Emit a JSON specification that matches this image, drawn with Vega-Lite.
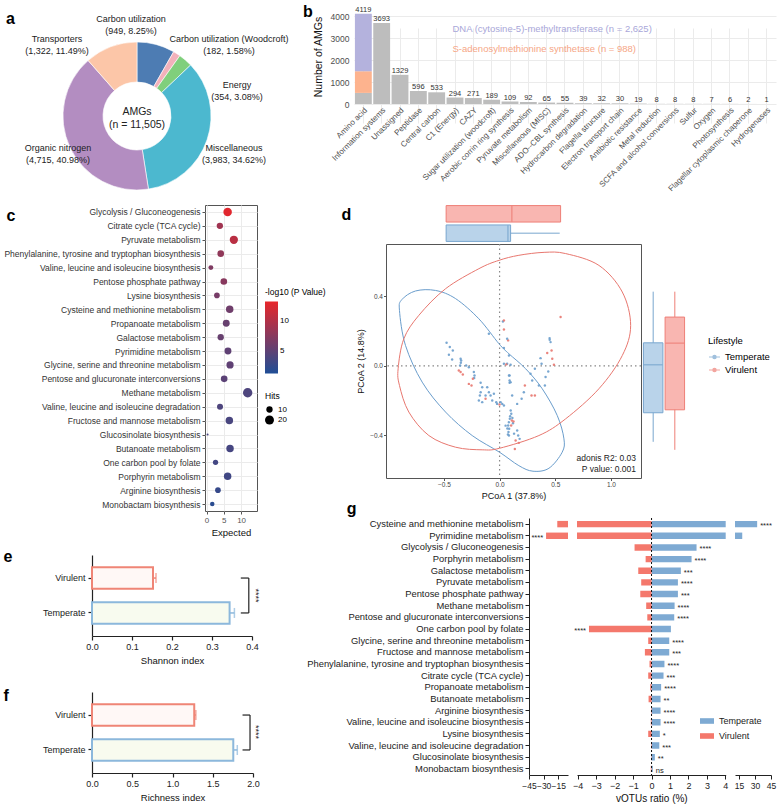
{
"$schema": "https://vega.github.io/schema/vega-lite/v6.json",
"padding": {"left": 2, "top": 3, "right": 2, "bottom": 2},
"config": {
  "font": "Liberation Sans",
  "view": {"stroke": null},
  "axis": {"labelFontSize": 8, "titleFontSize": 9.5, "titleFontWeight": "normal", "labelColor": "#333333", "titleColor": "#111111", "grid": false, "labelFlush": false, "labelOverlap": false, "tickCount": 20},
  "legend": {"labelFontSize": 8, "titleFontSize": 8.5, "titleFontWeight": "normal"},
  "title": {"anchor": "start", "frame": "bounds", "offset": 0, "fontSize": 16, "fontWeight": "bold", "color": "#000000"}
},
"datasets": {
  "amg": [
    {"cat": "Carbon utilization", "n": 949, "label": "Carbon utilization\n(949, 8.25%)"},
    {"cat": "Carbon utilization (Woodcroft)", "n": 182, "label": "Carbon utilization (Woodcroft)\n(182, 1.58%)"},
    {"cat": "Energy", "n": 354, "label": "Energy\n(354, 3.08%)"},
    {"cat": "Miscellaneous", "n": 3983, "label": "Miscellaneous\n(3,983, 34.62%)"},
    {"cat": "Organic nitrogen", "n": 4715, "label": "Organic nitrogen\n(4,715, 40.98%)"},
    {"cat": "Transporters", "n": 1322, "label": "Transporters\n(1,322, 11.49%)"}
  ],
  "bcat": [
    {"cat": "Amino acid", "part": "Other", "n": 506},
    {"cat": "Amino acid", "part": "S-adenosylmethionine synthetase (n = 988)", "n": 988},
    {"cat": "Amino acid", "part": "DNA (cytosine-5)-methyltransferase (n = 2,625)", "n": 2625},
    {"cat": "Information systems", "part": "Other", "n": 3693},
    {"cat": "Unassigned", "part": "Other", "n": 1329},
    {"cat": "Peptidase", "part": "Other", "n": 596},
    {"cat": "Central carbon", "part": "Other", "n": 533},
    {"cat": "C1 (Energy)", "part": "Other", "n": 294},
    {"cat": "CAZY", "part": "Other", "n": 271},
    {"cat": "Sugar utilization (woodcroft)", "part": "Other", "n": 189},
    {"cat": "Aerobic corrin ring synthesis", "part": "Other", "n": 109},
    {"cat": "Pyruvate metabolism", "part": "Other", "n": 92},
    {"cat": "Miscellaneous (MISC)", "part": "Other", "n": 65},
    {"cat": "ADO--CBL synthesis", "part": "Other", "n": 55},
    {"cat": "Hydrocarbon degradation", "part": "Other", "n": 39},
    {"cat": "Flagella structure", "part": "Other", "n": 32},
    {"cat": "Electron transport chain", "part": "Other", "n": 30},
    {"cat": "Antibiotic resistance", "part": "Other", "n": 19},
    {"cat": "Metal reduction", "part": "Other", "n": 8},
    {"cat": "SCFA and alcohol conversions", "part": "Other", "n": 8},
    {"cat": "Sulfur", "part": "Other", "n": 8},
    {"cat": "Oxygen", "part": "Other", "n": 7},
    {"cat": "Photosynthesis", "part": "Other", "n": 6},
    {"cat": "Flagellar cytoplasmic chaperone", "part": "Other", "n": 2},
    {"cat": "Hydrogenases", "part": "Other", "n": 1}
  ],
  "kegg": [
    {"path": "Glycolysis / Gluconeogenesis", "exp": 6.1, "hits": 18, "p": 13},
    {"path": "Citrate cycle (TCA cycle)", "exp": 3.85, "hits": 10, "p": 9},
    {"path": "Pyruvate metabolism", "exp": 7.9, "hits": 17, "p": 10.5},
    {"path": "Phenylalanine, tyrosine and tryptophan biosynthesis", "exp": 4.1, "hits": 11, "p": 8},
    {"path": "Valine, leucine and isoleucine biosynthesis", "exp": 1.25, "hits": 6, "p": 7},
    {"path": "Pentose phosphate pathway", "exp": 5.0, "hits": 11, "p": 7.5},
    {"path": "Lysine biosynthesis", "exp": 3.0, "hits": 8, "p": 6.5},
    {"path": "Cysteine and methionine metabolism", "exp": 6.7, "hits": 14, "p": 6},
    {"path": "Propanoate metabolism", "exp": 5.7, "hits": 12, "p": 5.5},
    {"path": "Galactose metabolism", "exp": 4.1, "hits": 10, "p": 5.5},
    {"path": "Pyrimidine metabolism", "exp": 6.2, "hits": 12, "p": 5},
    {"path": "Glycine, serine and threonine metabolism", "exp": 6.8, "hits": 13, "p": 5},
    {"path": "Pentose and glucuronate interconversions", "exp": 5.1, "hits": 11, "p": 4.8},
    {"path": "Methane metabolism", "exp": 11.9, "hits": 22, "p": 4},
    {"path": "Valine, leucine and isoleucine degradation", "exp": 3.9, "hits": 9, "p": 4},
    {"path": "Fructose and mannose metabolism", "exp": 6.6, "hits": 14, "p": 3.7},
    {"path": "Glucosinolate biosynthesis", "exp": 0.3, "hits": 1, "p": 3.5},
    {"path": "Butanoate metabolism", "exp": 6.8, "hits": 14, "p": 3.5},
    {"path": "One carbon pool by folate", "exp": 2.6, "hits": 7, "p": 3.3},
    {"path": "Porphyrin metabolism", "exp": 6.1, "hits": 14, "p": 3.1},
    {"path": "Arginine biosynthesis", "exp": 3.3, "hits": 8, "p": 2.5},
    {"path": "Monobactam biosynthesis", "exp": 1.65, "hits": 5, "p": 1.8}
  ],
  "shannon": [
    {"life": "Virulent", "mean": 0.1525, "upper": 0.16},
    {"life": "Temperate", "mean": 0.344, "upper": 0.356}
  ],
  "rich": [
    {"life": "Virulent", "mean": 1.27, "upper": 1.29},
    {"life": "Temperate", "mean": 1.755, "upper": 1.805}
  ],
  "box1": [
    {"life": "Virulent", "lo": -0.48, "q1": -0.48, "med": 0.11, "q3": 0.548, "hi": 0.548},
    {"life": "Temperate", "lo": -0.48, "q1": -0.48, "med": 0.075, "q3": 0.099, "hi": 0.54}
  ],
  "box2": [
    {"life": "Temperate", "lo": -0.437, "q1": -0.27, "med": 0.006, "q3": 0.132, "hi": 0.426},
    {"life": "Virulent", "lo": -0.483, "q1": -0.253, "med": 0.13, "q3": 0.28, "hi": 0.426}
  ],
  "ell": [
    {"life": "Temperate", "ex": -0.899, "ey": 0.318},
    {"life": "Temperate", "ex": -0.878, "ey": 0.38},
    {"life": "Temperate", "ex": -0.755, "ey": 0.43},
    {"life": "Temperate", "ex": -0.575, "ey": 0.433},
    {"life": "Temperate", "ex": -0.395, "ey": 0.386},
    {"life": "Temperate", "ex": -0.186, "ey": 0.27},
    {"life": "Temperate", "ex": -0.006, "ey": 0.127},
    {"life": "Temperate", "ex": 0.084, "ey": 0.069},
    {"life": "Temperate", "ex": 0.234, "ey": -0.017},
    {"life": "Temperate", "ex": 0.383, "ey": -0.132},
    {"life": "Temperate", "ex": 0.518, "ey": -0.286},
    {"life": "Temperate", "ex": 0.578, "ey": -0.42},
    {"life": "Temperate", "ex": 0.562, "ey": -0.497},
    {"life": "Temperate", "ex": 0.443, "ey": -0.589},
    {"life": "Temperate", "ex": 0.3, "ey": -0.606},
    {"life": "Temperate", "ex": 0.173, "ey": -0.574},
    {"life": "Temperate", "ex": 0.0, "ey": -0.497},
    {"life": "Temperate", "ex": -0.246, "ey": -0.401},
    {"life": "Temperate", "ex": -0.485, "ey": -0.266},
    {"life": "Temperate", "ex": -0.695, "ey": -0.094},
    {"life": "Temperate", "ex": -0.845, "ey": 0.117},
    {"life": "Virulent", "ex": 0.173, "ey": 0.635},
    {"life": "Virulent", "ex": 0.4, "ey": 0.652},
    {"life": "Virulent", "ex": 0.593, "ey": 0.645},
    {"life": "Virulent", "ex": 0.892, "ey": 0.577},
    {"life": "Virulent", "ex": 1.102, "ey": 0.424},
    {"life": "Virulent", "ex": 1.177, "ey": 0.232},
    {"life": "Virulent", "ex": 1.102, "ey": 0.059},
    {"life": "Virulent", "ex": 0.892, "ey": -0.132},
    {"life": "Virulent", "ex": 0.593, "ey": -0.305},
    {"life": "Virulent", "ex": 0.353, "ey": -0.401},
    {"life": "Virulent", "ex": 0.0, "ey": -0.474},
    {"life": "Virulent", "ex": -0.156, "ey": -0.483},
    {"life": "Virulent", "ex": -0.395, "ey": -0.468},
    {"life": "Virulent", "ex": -0.635, "ey": -0.401},
    {"life": "Virulent", "ex": -0.815, "ey": -0.266},
    {"life": "Virulent", "ex": -0.899, "ey": -0.113},
    {"life": "Virulent", "ex": -0.911, "ey": -0.017},
    {"life": "Virulent", "ex": -0.86, "ey": 0.155},
    {"life": "Virulent", "ex": -0.725, "ey": 0.29},
    {"life": "Virulent", "ex": -0.485, "ey": 0.443},
    {"life": "Virulent", "ex": -0.186, "ey": 0.558},
    {"life": "Virulent", "ex": -0.006, "ey": 0.606}
  ],
  "pc": [
    {"life": "Temperate", "pc1": -0.476, "pc2": 0.132},
    {"life": "Temperate", "pc1": -0.447, "pc2": 0.108},
    {"life": "Temperate", "pc1": -0.42, "pc2": 0.088},
    {"life": "Temperate", "pc1": -0.455, "pc2": 0.063},
    {"life": "Temperate", "pc1": -0.426, "pc2": 0.036},
    {"life": "Temperate", "pc1": -0.35, "pc2": 0.04},
    {"life": "Temperate", "pc1": -0.345, "pc2": 0.03},
    {"life": "Temperate", "pc1": -0.348, "pc2": 0.017},
    {"life": "Temperate", "pc1": -0.354, "pc2": 0.002},
    {"life": "Virulent", "pc1": -0.366, "pc2": -0.027},
    {"life": "Virulent", "pc1": -0.35, "pc2": -0.036},
    {"life": "Virulent", "pc1": -0.33, "pc2": -0.05},
    {"life": "Temperate", "pc1": -0.276, "pc2": -0.008},
    {"life": "Temperate", "pc1": -0.3, "pc2": 0.002},
    {"life": "Temperate", "pc1": -0.231, "pc2": -0.036},
    {"life": "Temperate", "pc1": -0.225, "pc2": -0.056},
    {"life": "Temperate", "pc1": -0.228, "pc2": -0.07},
    {"life": "Virulent", "pc1": -0.24, "pc2": -0.075},
    {"life": "Virulent", "pc1": -0.276, "pc2": -0.104},
    {"life": "Virulent", "pc1": -0.252, "pc2": -0.113},
    {"life": "Temperate", "pc1": -0.17, "pc2": -0.098},
    {"life": "Temperate", "pc1": -0.156, "pc2": -0.123},
    {"life": "Temperate", "pc1": -0.17, "pc2": -0.152},
    {"life": "Temperate", "pc1": -0.177, "pc2": -0.171},
    {"life": "Temperate", "pc1": -0.186, "pc2": -0.2},
    {"life": "Temperate", "pc1": -0.156, "pc2": -0.209},
    {"life": "Temperate", "pc1": -0.126, "pc2": -0.171},
    {"life": "Temperate", "pc1": -0.111, "pc2": -0.123},
    {"life": "Temperate", "pc1": -0.096, "pc2": -0.152},
    {"life": "Temperate", "pc1": -0.081, "pc2": -0.171},
    {"life": "Temperate", "pc1": -0.051, "pc2": -0.161},
    {"life": "Temperate", "pc1": -0.066, "pc2": -0.2},
    {"life": "Virulent", "pc1": -0.126, "pc2": -0.19},
    {"life": "Temperate", "pc1": -0.03, "pc2": -0.209},
    {"life": "Temperate", "pc1": -0.022, "pc2": -0.219},
    {"life": "Virulent", "pc1": 0.0, "pc2": -0.223},
    {"life": "Temperate", "pc1": 0.024, "pc2": -0.219},
    {"life": "Temperate", "pc1": 0.039, "pc2": -0.228},
    {"life": "Temperate", "pc1": 0.03, "pc2": 0.255},
    {"life": "Virulent", "pc1": 0.039, "pc2": 0.209},
    {"life": "Temperate", "pc1": -0.096, "pc2": 0.184},
    {"life": "Virulent", "pc1": 0.077, "pc2": 0.146},
    {"life": "Temperate", "pc1": 0.039, "pc2": 0.102},
    {"life": "Temperate", "pc1": 0.084, "pc2": 0.059},
    {"life": "Temperate", "pc1": 0.068, "pc2": 0.012},
    {"life": "Virulent", "pc1": 0.06, "pc2": 0.008},
    {"life": "Temperate", "pc1": 0.099, "pc2": 0.006},
    {"life": "Temperate", "pc1": 0.09, "pc2": -0.056},
    {"life": "Temperate", "pc1": 0.09, "pc2": -0.085},
    {"life": "Temperate", "pc1": 0.09, "pc2": -0.098},
    {"life": "Temperate", "pc1": 0.1, "pc2": -0.257},
    {"life": "Temperate", "pc1": 0.105, "pc2": -0.276},
    {"life": "Temperate", "pc1": 0.092, "pc2": -0.305},
    {"life": "Temperate", "pc1": 0.083, "pc2": -0.324},
    {"life": "Temperate", "pc1": 0.077, "pc2": -0.343},
    {"life": "Temperate", "pc1": 0.086, "pc2": -0.362},
    {"life": "Virulent", "pc1": 0.11, "pc2": -0.314},
    {"life": "Virulent", "pc1": 0.104, "pc2": -0.343},
    {"life": "Temperate", "pc1": 0.08, "pc2": -0.381},
    {"life": "Temperate", "pc1": 0.095, "pc2": -0.29},
    {"life": "Temperate", "pc1": 0.115, "pc2": -0.3},
    {"life": "Temperate", "pc1": 0.12, "pc2": -0.33},
    {"life": "Virulent", "pc1": 0.125, "pc2": -0.32},
    {"life": "Temperate", "pc1": 0.07, "pc2": -0.36},
    {"life": "Temperate", "pc1": 0.075, "pc2": -0.395},
    {"life": "Virulent", "pc1": 0.548, "pc2": 0.28},
    {"life": "Temperate", "pc1": 0.449, "pc2": 0.159},
    {"life": "Temperate", "pc1": 0.458, "pc2": 0.136},
    {"life": "Temperate", "pc1": 0.45, "pc2": 0.15},
    {"life": "Virulent", "pc1": 0.428, "pc2": 0.073},
    {"life": "Virulent", "pc1": 0.467, "pc2": 0.088},
    {"life": "Virulent", "pc1": 0.473, "pc2": 0.04},
    {"life": "Virulent", "pc1": 0.488, "pc2": 0.006},
    {"life": "Temperate", "pc1": 0.368, "pc2": 0.044},
    {"life": "Temperate", "pc1": 0.377, "pc2": 0.012},
    {"life": "Temperate", "pc1": 0.317, "pc2": -0.017},
    {"life": "Temperate", "pc1": 0.437, "pc2": -0.033},
    {"life": "Temperate", "pc1": 0.413, "pc2": -0.065},
    {"life": "Temperate", "pc1": 0.407, "pc2": -0.113},
    {"life": "Temperate", "pc1": 0.353, "pc2": -0.113},
    {"life": "Temperate", "pc1": 0.278, "pc2": -0.046},
    {"life": "Temperate", "pc1": 0.293, "pc2": -0.085},
    {"life": "Virulent", "pc1": 0.227, "pc2": -0.113},
    {"life": "Temperate", "pc1": 0.218, "pc2": -0.152},
    {"life": "Virulent", "pc1": 0.287, "pc2": -0.171},
    {"life": "Virulent", "pc1": 0.317, "pc2": -0.171},
    {"life": "Temperate", "pc1": 0.198, "pc2": -0.19},
    {"life": "Temperate", "pc1": 0.158, "pc2": -0.219},
    {"life": "Temperate", "pc1": 0.113, "pc2": -0.171},
    {"life": "Temperate", "pc1": 0.084, "pc2": -0.056},
    {"life": "Temperate", "pc1": 0.099, "pc2": -0.094},
    {"life": "Temperate", "pc1": 0.068, "pc2": 0.155},
    {"life": "Temperate", "pc1": 0.039, "pc2": 0.012},
    {"life": "Virulent", "pc1": 0.039, "pc2": 0.261},
    {"life": "Temperate", "pc1": 0.158, "pc2": -0.372},
    {"life": "Temperate", "pc1": 0.167, "pc2": -0.401},
    {"life": "Temperate", "pc1": 0.18, "pc2": -0.42},
    {"life": "Virulent", "pc1": 0.173, "pc2": -0.443},
    {"life": "Temperate", "pc1": 0.084, "pc2": -0.401},
    {"life": "Temperate", "pc1": 0.054, "pc2": -0.344},
    {"life": "Temperate", "pc1": 0.009, "pc2": -0.209},
    {"life": "Virulent", "pc1": 0.144, "pc2": -0.43},
    {"life": "Virulent", "pc1": 0.137, "pc2": -0.478},
    {"life": "Temperate", "pc1": 0.13, "pc2": -0.39}
  ],
  "gbar": [
    {"path": "Cysteine and methionine metabolism", "life": "Temperate", "r": 32, "sig": "****"},
    {"path": "Cysteine and methionine metabolism", "life": "Virulent", "r": -16, "sig": ""},
    {"path": "Pyrimidine metabolism", "life": "Temperate", "r": 18, "sig": ""},
    {"path": "Pyrimidine metabolism", "life": "Virulent", "r": -27.5, "sig": "****"},
    {"path": "Glycolysis / Gluconeogenesis", "life": "Temperate", "r": 2.44, "sig": "****"},
    {"path": "Glycolysis / Gluconeogenesis", "life": "Virulent", "r": -0.92, "sig": ""},
    {"path": "Porphyrin metabolism", "life": "Temperate", "r": 2.17, "sig": "****"},
    {"path": "Porphyrin metabolism", "life": "Virulent", "r": -0.32, "sig": ""},
    {"path": "Galactose metabolism", "life": "Temperate", "r": 1.59, "sig": "***"},
    {"path": "Galactose metabolism", "life": "Virulent", "r": -0.72, "sig": ""},
    {"path": "Pyruvate metabolism", "life": "Temperate", "r": 1.43, "sig": "****"},
    {"path": "Pyruvate metabolism", "life": "Virulent", "r": -0.56, "sig": ""},
    {"path": "Pentose phosphate pathway", "life": "Temperate", "r": 1.43, "sig": "***"},
    {"path": "Pentose phosphate pathway", "life": "Virulent", "r": -0.61, "sig": ""},
    {"path": "Methane metabolism", "life": "Temperate", "r": 1.25, "sig": "****"},
    {"path": "Methane metabolism", "life": "Virulent", "r": -0.29, "sig": ""},
    {"path": "Pentose and glucuronate interconversions", "life": "Temperate", "r": 1.23, "sig": "****"},
    {"path": "Pentose and glucuronate interconversions", "life": "Virulent", "r": -0.23, "sig": ""},
    {"path": "One carbon pool by folate", "life": "Temperate", "r": 1.05, "sig": ""},
    {"path": "One carbon pool by folate", "life": "Virulent", "r": -3.39, "sig": "****"},
    {"path": "Glycine, serine and threonine metabolism", "life": "Temperate", "r": 0.96, "sig": "****"},
    {"path": "Glycine, serine and threonine metabolism", "life": "Virulent", "r": -0.18, "sig": ""},
    {"path": "Fructose and mannose metabolism", "life": "Temperate", "r": 0.96, "sig": "***"},
    {"path": "Fructose and mannose metabolism", "life": "Virulent", "r": -0.36, "sig": ""},
    {"path": "Phenylalanine, tyrosine and tryptophan biosynthesis", "life": "Temperate", "r": 0.7, "sig": "****"},
    {"path": "Phenylalanine, tyrosine and tryptophan biosynthesis", "life": "Virulent", "r": -0.11, "sig": ""},
    {"path": "Citrate cycle (TCA cycle)", "life": "Temperate", "r": 0.65, "sig": "***"},
    {"path": "Citrate cycle (TCA cycle)", "life": "Virulent", "r": -0.18, "sig": ""},
    {"path": "Propanoate metabolism", "life": "Temperate", "r": 0.52, "sig": "****"},
    {"path": "Propanoate metabolism", "life": "Virulent", "r": -0.07, "sig": ""},
    {"path": "Butanoate metabolism", "life": "Temperate", "r": 0.49, "sig": "**"},
    {"path": "Butanoate metabolism", "life": "Virulent", "r": -0.16, "sig": ""},
    {"path": "Arginine biosynthesis", "life": "Temperate", "r": 0.49, "sig": "****"},
    {"path": "Arginine biosynthesis", "life": "Virulent", "r": -0.03, "sig": ""},
    {"path": "Valine, leucine and isoleucine biosynthesis", "life": "Temperate", "r": 0.49, "sig": "****"},
    {"path": "Valine, leucine and isoleucine biosynthesis", "life": "Virulent", "r": -0.04, "sig": ""},
    {"path": "Lysine biosynthesis", "life": "Temperate", "r": 0.45, "sig": "*"},
    {"path": "Lysine biosynthesis", "life": "Virulent", "r": -0.18, "sig": ""},
    {"path": "Valine, leucine and isoleucine degradation", "life": "Temperate", "r": 0.42, "sig": "***"},
    {"path": "Valine, leucine and isoleucine degradation", "life": "Virulent", "r": -0.03, "sig": ""},
    {"path": "Glucosinolate biosynthesis", "life": "Temperate", "r": 0.18, "sig": "**"},
    {"path": "Glucosinolate biosynthesis", "life": "Virulent", "r": -0.02, "sig": ""},
    {"path": "Monobactam biosynthesis", "life": "Temperate", "r": 0.07, "sig": "ns"},
    {"path": "Monobactam biosynthesis", "life": "Virulent", "r": -0.04, "sig": ""}
  ]
},
"spacing": 0,
"resolve": {"scale": {"color": "independent", "fill": "independent", "stroke": "independent", "size": "independent", "opacity": "independent", "theta": "independent"}},
"vconcat": [
 {
  "spacing": 14,
  "resolve": {"scale": {"color": "independent", "fill": "independent", "stroke": "independent", "size": "independent", "opacity": "independent", "theta": "independent"}},
  "hconcat": [
   {
    "width": 270, "height": 176,
    "title": {"text": "a", "dx": 4, "offset": -12},
    "data": {"name": "amg"},
    "layer": [
     {"mark": {"type": "arc", "innerRadius": 34, "outerRadius": 74, "stroke": "#ffffff", "strokeWidth": 0.6},
      "encoding": {
        "theta": {"field": "n", "type": "quantitative", "stack": true},
        "order": {"field": "cat", "type": "ordinal", "sort": "ascending"},
        "color": {"field": "cat", "type": "nominal", "legend": null,
          "scale": {"domain": ["Carbon utilization", "Carbon utilization (Woodcroft)", "Energy", "Miscellaneous", "Organic nitrogen", "Transporters"],
                    "range": ["#4d7cb3", "#f2b1bb", "#80cf7c", "#4cb8cf", "#b38dc1", "#fcc6a8"]}}
      }},
     {"transform": [{"filter": "datum.cat === 'Carbon utilization'"}],
      "mark": {"type": "text", "dx": -6, "dy": -97, "fontSize": 9, "lineBreak": "\n", "lineHeight": 12, "align": "center", "baseline": "middle", "color": "#222222"},
      "encoding": {"text": {"field": "label"}}},
     {"transform": [{"filter": "datum.cat === 'Carbon utilization (Woodcroft)'"}],
      "mark": {"type": "text", "dx": 92, "dy": -77, "fontSize": 9, "lineBreak": "\n", "lineHeight": 12, "align": "center", "baseline": "middle", "color": "#222222"},
      "encoding": {"text": {"field": "label"}}},
     {"transform": [{"filter": "datum.cat === 'Energy'"}],
      "mark": {"type": "text", "dx": 100, "dy": -31, "fontSize": 9, "lineBreak": "\n", "lineHeight": 12, "align": "center", "baseline": "middle", "color": "#222222"},
      "encoding": {"text": {"field": "label"}}},
     {"transform": [{"filter": "datum.cat === 'Miscellaneous'"}],
      "mark": {"type": "text", "dx": 97, "dy": 32, "fontSize": 9, "lineBreak": "\n", "lineHeight": 12, "align": "center", "baseline": "middle", "color": "#222222"},
      "encoding": {"text": {"field": "label"}}},
     {"transform": [{"filter": "datum.cat === 'Organic nitrogen'"}],
      "mark": {"type": "text", "dx": -79, "dy": 32, "fontSize": 9, "lineBreak": "\n", "lineHeight": 12, "align": "center", "baseline": "middle", "color": "#222222"},
      "encoding": {"text": {"field": "label"}}},
     {"transform": [{"filter": "datum.cat === 'Transporters'"}],
      "mark": {"type": "text", "dx": -80, "dy": -77, "fontSize": 9, "lineBreak": "\n", "lineHeight": 12, "align": "center", "baseline": "middle", "color": "#222222"},
      "encoding": {"text": {"field": "label"}}},
     {"data": {"values": [{}]},
      "mark": {"type": "text", "fontSize": 10.5, "lineBreak": "\n", "lineHeight": 13, "dy": -4, "align": "center", "baseline": "middle", "color": "#222222"},
      "encoding": {"text": {"value": "AMGs\n(n = 11,505)"}}}
    ]
   },
   {
    "width": 422, "height": 76,
    "title": {"text": "b", "dx": -10, "offset": -14},
    "data": {"name": "bcat"},
    "layer": [
     {"mark": {"type": "bar"},
      "encoding": {
        "x": {"field": "cat", "type": "nominal",
              "scale": {"domain": ["Amino acid", "Information systems", "Unassigned", "Peptidase", "Central carbon", "C1 (Energy)", "CAZY", "Sugar utilization (woodcroft)", "Aerobic corrin ring synthesis", "Pyruvate metabolism", "Miscellaneous (MISC)", "ADO--CBL synthesis", "Hydrocarbon degradation", "Flagella structure", "Electron transport chain", "Antibiotic resistance", "Metal reduction", "SCFA and alcohol conversions", "Sulfur", "Oxygen", "Photosynthesis", "Flagellar cytoplasmic chaperone", "Hydrogenases"], "paddingInner": 0.08, "paddingOuter": 0.05},
              "axis": {"title": null, "labelAngle": -45, "labelAlign": "right", "labelBaseline": "top", "labelFontSize": 8, "labelColor": "#4d4d4d", "ticks": false, "domain": false, "grid": true, "gridColor": "#ebebeb", "bandPosition": 0.5, "labelLimit": 300, "labelPadding": 2}},
        "y": {"field": "n", "type": "quantitative", "stack": "zero", "scale": {"domain": [0, 4330], "nice": false, "range": [76, -19]},
              "axis": {"values": [0, 1000, 2000, 3000, 4000], "format": "d", "title": "Number of AMGs", "titleFontSize": 10.5, "labelFontSize": 8.5, "labelColor": "#4d4d4d", "ticks": false, "domain": false, "grid": true, "gridColor": "#ebebeb", "labelPadding": 5, "titlePadding": 7}},
        "color": {"field": "part", "type": "nominal",
                  "scale": {"domain": ["DNA (cytosine-5)-methyltransferase (n = 2,625)", "S-adenosylmethionine synthetase (n = 988)", "Other"], "range": ["#b4b2dd", "#fdb38e", "#bdbdbd"]},
                  "legend": {"title": null, "orient": "none", "legendX": 89, "legendY": -4, "values": ["DNA (cytosine-5)-methyltransferase (n = 2,625)", "S-adenosylmethionine synthetase (n = 988)"], "symbolSize": 0, "symbolOpacity": 0, "labelFontSize": 9.5, "labelOffset": 0, "rowPadding": 9, "labelLimit": 400,
                             "encode": {"labels": {"update": {"fill": {"signal": "indexof(datum.value, 'DNA') === 0 ? '#a9a7d9' : '#f6a686'"}}}}}},
        "order": {"field": "n", "type": "quantitative", "sort": "ascending"}
      }},
     {"mark": {"type": "text", "dy": -4, "fontSize": 7.5, "color": "#333333"},
      "encoding": {
        "x": {"field": "cat", "type": "nominal"},
        "y": {"aggregate": "sum", "field": "n", "type": "quantitative"},
        "text": {"aggregate": "sum", "field": "n", "type": "quantitative"}
      }}
    ]
   }
  ]
 },
 {
  "spacing": 0,
  "resolve": {"scale": {"color": "independent", "fill": "independent", "stroke": "independent", "size": "independent", "opacity": "independent", "theta": "independent"}},
  "hconcat": [
   {"width": 1, "height": 1, "data": {"values": []}, "mark": {"type": "point", "opacity": 0}},
   {
    "spacing": -102,
    "resolve": {"scale": {"color": "independent", "fill": "independent", "stroke": "independent", "size": "independent", "opacity": "independent", "theta": "independent"}},
    "hconcat": [
     {
      "spacing": 11,
      "resolve": {"scale": {"color": "independent", "fill": "independent", "stroke": "independent", "size": "independent", "opacity": "independent", "theta": "independent"}},
      "vconcat": [
       {
        "width": 52, "height": 306,
        "view": {"stroke": "#555555", "strokeWidth": 1},
        "data": {"name": "kegg"},
        "mark": {"type": "circle", "opacity": 1},
        "encoding": {
          "y": {"field": "path", "type": "nominal", "sort": null,
                "axis": {"title": "c", "titleAngle": 0, "titleX": -199, "titleY": 15, "titleAlign": "left", "titleBaseline": "alphabetic", "titleFontSize": 16, "titleFontWeight": "bold", "titleColor": "#000000",
                         "labelFontSize": 8.5, "labelColor": "#333333", "tickColor": "#555555", "tickSize": 3, "grid": true, "gridColor": "#ebebeb", "domain": false, "labelLimit": 400, "labelPadding": 2}},
          "x": {"field": "exp", "type": "quantitative", "scale": {"domain": [-0.45, 14.6], "nice": false, "zero": false},
                "axis": {"values": [0, 5, 10], "format": "d", "title": "Expected", "grid": true, "gridColor": "#ebebeb", "domain": false, "tickColor": "#555555", "tickSize": 3, "labelFontSize": 8, "labelColor": "#555555", "titleFontSize": 9.5, "titlePadding": 3}},
          "size": {"field": "hits", "type": "quantitative", "scale": {"domain": [0, 25], "range": [0, 100]}, "legend": null},
          "color": {"field": "p", "type": "quantitative", "scale": {"domain": [1.1, 13.4], "range": ["#1f4e96", "#e8262a"], "interpolate": "rgb"}, "legend": null}
        }
       },
       {
        "spacing": 22,
        "resolve": {"scale": {"color": "independent", "fill": "independent", "stroke": "independent", "size": "independent", "opacity": "independent", "theta": "independent"}},
        "vconcat": [
         {
          "width": 47, "height": 81,
          "data": {"name": "shannon"},
          "layer": [
           {"mark": {"type": "rule", "strokeWidth": 1.5},
            "encoding": {
              "y": {"field": "life", "type": "nominal", "scale": {"domain": ["Virulent", "Temperate"], "paddingInner": 0.38, "paddingOuter": 0.35},
                    "axis": {"offset": 113, "title": "\u00a0e", "titleAngle": 0, "titleX": -89, "titleY": 6, "titleAlign": "left", "titleBaseline": "alphabetic", "titleFontSize": 16, "titleFontWeight": "bold", "titleColor": "#000000",
                             "labelFontSize": 9, "labelColor": "#222222", "domainColor": "#222222", "tickColor": "#222222", "tickSize": 4, "domainWidth": 1.2, "tickWidth": 1.2, "labelPadding": 3}},
              "x": {"field": "mean", "type": "quantitative", "scale": {"domain": [0, 0.4], "nice": false, "range": [-113, 47]},
                    "axis": {"values": [0, 0.1, 0.2, 0.3, 0.4], "tickCount": 20, "format": ".1f", "title": "Shannon index", "domainColor": "#222222", "tickColor": "#222222", "tickSize": 4, "domainWidth": 1.2, "tickWidth": 1.2, "labelFontSize": 9, "labelColor": "#222222", "titleFontSize": 9.5, "titlePadding": 4}},
              "x2": {"field": "upper"},
              "color": {"field": "life", "type": "nominal", "scale": {"domain": ["Virulent", "Temperate"], "range": ["#ef8576", "#8cb8dc"]}, "legend": null}
            }},
           {"mark": {"type": "tick", "thickness": 1.5, "size": 10},
            "encoding": {
              "y": {"field": "life", "type": "nominal"},
              "x": {"field": "upper", "type": "quantitative"},
              "color": {"field": "life", "type": "nominal", "legend": null}
            }},
           {"mark": {"type": "bar", "strokeWidth": 2},
            "encoding": {
              "y": {"field": "life", "type": "nominal"},
              "x": {"field": "mean", "type": "quantitative"},
              "fill": {"field": "life", "type": "nominal", "scale": {"domain": ["Virulent", "Temperate"], "range": ["#fff8f6", "#f8fbef"]}, "legend": null},
              "stroke": {"field": "life", "type": "nominal", "scale": {"domain": ["Virulent", "Temperate"], "range": ["#ef8576", "#8cb8dc"]}, "legend": null}
            }},
           {"data": {"values": [{}]}, "mark": {"type": "rule", "color": "#222222", "strokeWidth": 1.2},
            "encoding": {"x": {"datum": 0.392}, "y": {"datum": "Virulent"}, "y2": {"datum": "Temperate"}}},
           {"mark": {"type": "rule", "color": "#222222", "strokeWidth": 1.2},
            "encoding": {"x": {"datum": 0.372}, "x2": {"datum": 0.392}, "y": {"field": "life", "type": "nominal"}}},
           {"data": {"values": [{}]}, "mark": {"type": "text", "angle": 90, "dx": 17.5, "fontSize": 9, "align": "center", "baseline": "middle", "color": "#222222"},
            "encoding": {"x": {"datum": 0.41}, "y": {"datum": "Virulent"}, "text": {"value": "****"}}}
          ]
         },
         {
          "width": 48, "height": 81,
          "data": {"name": "rich"},
          "layer": [
           {"mark": {"type": "rule", "strokeWidth": 1.5},
            "encoding": {
              "y": {"field": "life", "type": "nominal", "scale": {"domain": ["Virulent", "Temperate"], "paddingInner": 0.38, "paddingOuter": 0.35},
                    "axis": {"offset": 113, "title": "\u00a0f", "titleAngle": 0, "titleX": -89, "titleY": 8, "titleAlign": "left", "titleBaseline": "alphabetic", "titleFontSize": 16, "titleFontWeight": "bold", "titleColor": "#000000",
                             "labelFontSize": 9, "labelColor": "#222222", "domainColor": "#222222", "tickColor": "#222222", "tickSize": 4, "domainWidth": 1.2, "tickWidth": 1.2, "labelPadding": 3}},
              "x": {"field": "mean", "type": "quantitative", "scale": {"domain": [0, 2], "nice": false, "range": [-113, 48]},
                    "axis": {"values": [0, 0.5, 1, 1.5, 2], "tickCount": 20, "format": ".1f", "title": "Richness index", "domainColor": "#222222", "tickColor": "#222222", "tickSize": 4, "domainWidth": 1.2, "tickWidth": 1.2, "labelFontSize": 9, "labelColor": "#222222", "titleFontSize": 9.5, "titlePadding": 4}},
              "x2": {"field": "upper"},
              "color": {"field": "life", "type": "nominal", "scale": {"domain": ["Virulent", "Temperate"], "range": ["#ef8576", "#8cb8dc"]}, "legend": null}
            }},
           {"mark": {"type": "tick", "thickness": 1.5, "size": 10},
            "encoding": {
              "y": {"field": "life", "type": "nominal"},
              "x": {"field": "upper", "type": "quantitative"},
              "color": {"field": "life", "type": "nominal", "legend": null}
            }},
           {"mark": {"type": "bar", "strokeWidth": 2},
            "encoding": {
              "y": {"field": "life", "type": "nominal"},
              "x": {"field": "mean", "type": "quantitative"},
              "fill": {"field": "life", "type": "nominal", "scale": {"domain": ["Virulent", "Temperate"], "range": ["#fff8f6", "#f8fbef"]}, "legend": null},
              "stroke": {"field": "life", "type": "nominal", "scale": {"domain": ["Virulent", "Temperate"], "range": ["#ef8576", "#8cb8dc"]}, "legend": null}
            }},
           {"data": {"values": [{}]}, "mark": {"type": "rule", "color": "#222222", "strokeWidth": 1.2},
            "encoding": {"x": {"datum": 1.963}, "y": {"datum": "Virulent"}, "y2": {"datum": "Temperate"}}},
           {"mark": {"type": "rule", "color": "#222222", "strokeWidth": 1.2},
            "encoding": {"x": {"datum": 1.87}, "x2": {"datum": 1.963}, "y": {"field": "life", "type": "nominal"}}},
           {"data": {"values": [{}]}, "mark": {"type": "text", "angle": 90, "dx": 17, "fontSize": 9, "align": "center", "baseline": "middle", "color": "#222222"},
            "encoding": {"x": {"datum": 2.04}, "y": {"datum": "Virulent"}, "text": {"value": "****"}}}
          ]
         }
        ]
       }
      ]
     },
     {
      "spacing": 0,
      "resolve": {"scale": {"color": "independent", "fill": "independent", "stroke": "independent", "size": "independent", "opacity": "independent", "theta": "independent"}},
      "vconcat": [
       {
        "columns": 2, "spacing": 2, "bounds": "flush",
        "resolve": {"scale": {"color": "independent", "fill": "independent", "stroke": "independent", "size": "independent", "opacity": "independent", "theta": "independent"}},
        "concat": [
         {
          "width": 255, "height": 37,
          "data": {"name": "box1"},
          "layer": [
           {"mark": {"type": "rule", "strokeWidth": 1},
            "encoding": {
              "y": {"field": "life", "type": "nominal", "scale": {"domain": ["Virulent", "Temperate"], "paddingInner": 0.15, "paddingOuter": 0.03},
                    "axis": {"title": "d", "labels": false, "ticks": false, "domain": false, "grid": false, "titleAngle": 0, "titleX": -45, "titleY": 14, "titleAlign": "left", "titleBaseline": "alphabetic", "titleFontSize": 16, "titleFontWeight": "bold", "titleColor": "#000000"}},
              "x": {"field": "lo", "type": "quantitative", "scale": {"domain": [-1.02, 1.27], "nice": false, "zero": false}, "axis": null},
              "x2": {"field": "hi"},
              "color": {"field": "life", "type": "nominal", "scale": {"domain": ["Temperate", "Virulent"], "range": ["#79a6cf", "#ee7f77"]}, "legend": null}
            }},
           {"mark": {"type": "bar", "strokeWidth": 1},
            "encoding": {
              "y": {"field": "life", "type": "nominal"},
              "x": {"field": "q1", "type": "quantitative"},
              "x2": {"field": "q3"},
              "fill": {"field": "life", "type": "nominal", "scale": {"domain": ["Temperate", "Virulent"], "range": ["#b9d3ea", "#f9b6b1"]}, "legend": null},
              "stroke": {"field": "life", "type": "nominal", "scale": {"domain": ["Temperate", "Virulent"], "range": ["#79a6cf", "#ee7f77"]}, "legend": null}
            }},
           {"mark": {"type": "tick", "thickness": 1.5, "size": 16},
            "encoding": {
              "y": {"field": "life", "type": "nominal"},
              "x": {"field": "med", "type": "quantitative"},
              "color": {"field": "life", "type": "nominal", "legend": null}
            }}
          ]
         },
         {"width": 42, "height": 37, "data": {"values": []}, "mark": {"type": "point", "opacity": 0}},
         {
          "width": 255, "height": 234,
          "view": {"stroke": "#555555", "strokeWidth": 1},
          "layer": [
           {"data": {"name": "kegg"}, "mark": {"type": "circle", "opacity": 0},
            "encoding": {
              "fill": {"field": "p", "type": "quantitative", "scale": {"domain": [1.1, 13.4], "range": ["#1f4e96", "#e8262a"], "interpolate": "rgb"},
                       "legend": {"title": "-log10 (P Value)", "values": [5, 10], "orient": "none", "direction": "vertical", "legendX": -121, "legendY": 44, "gradientLength": 72, "gradientThickness": 13, "gradientOpacity": 1}},
              "size": {"field": "hits", "type": "quantitative", "scale": {"domain": [0, 25], "range": [0, 100]},
                       "legend": {"title": "Hits", "values": [10, 20], "orient": "none", "legendX": -121, "legendY": 148, "symbolFillColor": "#000000", "symbolOpacity": 1, "symbolStrokeWidth": 0, "symbolType": "circle"}}
            }},
           {"data": {"values": [{}]}, "mark": {"type": "rule", "color": "#888888", "strokeDash": [1.5, 3], "strokeWidth": 1.2},
            "encoding": {"x": {"datum": 0, "type": "quantitative"}}},
           {"data": {"values": [{}]}, "mark": {"type": "rule", "color": "#888888", "strokeDash": [1.5, 3], "strokeWidth": 1.2},
            "encoding": {"y": {"datum": 0, "type": "quantitative"}}},
           {"data": {"name": "ell"}, "mark": {"type": "line", "interpolate": "cardinal-closed", "strokeWidth": 1},
            "encoding": {
              "x": {"field": "ex", "type": "quantitative"},
              "y": {"field": "ey", "type": "quantitative"},
              "color": {"field": "life", "type": "nominal", "legend": null},
              "order": {"value": null}
            }},
           {"data": {"name": "pc"}, "mark": {"type": "circle", "size": 6, "opacity": 0.9},
            "encoding": {
              "x": {"field": "pc1", "type": "quantitative", "scale": {"domain": [-1.02, 1.27], "nice": false, "zero": false},
                    "axis": {"values": [-0.5, 0, 0.5, 1], "format": ".1f", "title": "PCoA 1 (37.8%)", "labelFontSize": 6.5, "labelColor": "#444444", "tickColor": "#555555", "tickSize": 2.5, "domain": false, "titleFontSize": 9, "titlePadding": 3, "labelPadding": 1}},
              "y": {"field": "pc2", "type": "quantitative", "scale": {"domain": [-0.645, 0.7], "nice": false, "zero": false},
                    "axis": {"values": [-0.4, 0, 0.4], "format": ".1f", "title": "PCoA 2 (14.8%)", "labelFontSize": 6.5, "labelColor": "#444444", "tickColor": "#555555", "tickSize": 2.5, "domain": false, "titleFontSize": 9, "titlePadding": 4, "labelPadding": 1}},
              "color": {"field": "life", "type": "nominal", "scale": {"domain": ["Temperate", "Virulent"], "range": ["#6a9dcc", "#e8776f"]}, "legend": null}
            }},
           {"data": {"values": [{}]}, "mark": {"type": "text", "align": "right", "baseline": "bottom", "fontSize": 8.5, "lineBreak": "\n", "lineHeight": 11, "dx": -5, "dy": -15, "color": "#222222"},
            "encoding": {"x": {"datum": 1.27}, "y": {"datum": -0.645}, "text": {"value": "adonis R2: 0.03\nP value: 0.001"}}}
          ]
         },
         {
          "width": 42, "height": 234,
          "data": {"name": "box2"},
          "layer": [
           {"mark": {"type": "rule", "strokeWidth": 1},
            "encoding": {
              "x": {"field": "life", "type": "nominal", "scale": {"domain": ["Temperate", "Virulent"], "paddingInner": 0.1, "paddingOuter": 0.02}, "axis": null},
              "y": {"field": "lo", "type": "quantitative", "scale": {"domain": [-0.645, 0.7], "nice": false, "zero": false}, "axis": null},
              "y2": {"field": "hi"},
              "color": {"field": "life", "type": "nominal", "scale": {"domain": ["Temperate", "Virulent"], "range": ["#79a6cf", "#ee7f77"]},
                        "legend": {"title": "Lifestyle", "orient": "none", "legendX": 65, "legendY": 92, "titleFontSize": 9.5, "labelFontSize": 9.5, "symbolType": "M-1,0H1M-0.3,0A0.3,0.3,0,1,1,0.3,0A0.3,0.3,0,1,1,-0.3,0", "symbolSize": 120, "symbolStrokeWidth": 1.2}}
            }},
           {"mark": {"type": "bar", "strokeWidth": 1},
            "encoding": {
              "x": {"field": "life", "type": "nominal"},
              "y": {"field": "q1", "type": "quantitative"},
              "y2": {"field": "q3"},
              "fill": {"field": "life", "type": "nominal", "scale": {"domain": ["Temperate", "Virulent"], "range": ["#b9d3ea", "#f9b6b1"]}, "legend": null},
              "stroke": {"field": "life", "type": "nominal", "scale": {"domain": ["Temperate", "Virulent"], "range": ["#79a6cf", "#ee7f77"]}, "legend": null}
            }},
           {"mark": {"type": "tick", "thickness": 1.5, "size": 19},
            "encoding": {
              "x": {"field": "life", "type": "nominal"},
              "y": {"field": "med", "type": "quantitative"},
              "color": {"field": "life", "type": "nominal"}
            }}
          ]
         }
        ]
       },
       {
        "spacing": 9, "bounds": "flush",
        "resolve": {"scale": {"color": "independent", "fill": "independent", "stroke": "independent", "size": "independent", "opacity": "independent", "theta": "independent"}},
        "hconcat": [
         {
          "width": 182, "height": 257,
          "title": {"text": "g", "dx": 40, "offset": 1},
          "data": {"name": "gbar"},
          "layer": [
           {"mark": {"type": "bar", "clip": true},
            "encoding": {
              "y": {"field": "path", "type": "nominal", "sort": null,
                    "scale": {"domain": ["Cysteine and methionine metabolism", "Pyrimidine metabolism", "Glycolysis / Gluconeogenesis", "Porphyrin metabolism", "Galactose metabolism", "Pyruvate metabolism", "Pentose phosphate pathway", "Methane metabolism", "Pentose and glucuronate interconversions", "One carbon pool by folate", "Glycine, serine and threonine metabolism", "Fructose and mannose metabolism", "Phenylalanine, tyrosine and tryptophan biosynthesis", "Citrate cycle (TCA cycle)", "Propanoate metabolism", "Butanoate metabolism", "Arginine biosynthesis", "Valine, leucine and isoleucine biosynthesis", "Lysine biosynthesis", "Valine, leucine and isoleucine degradation", "Glucosinolate biosynthesis", "Monobactam biosynthesis"], "paddingInner": 0.45, "paddingOuter": 0.25},
                    "axis": {"offset": -143, "title": null, "labelFontSize": 9.4, "labelColor": "#222222", "domainColor": "#222222", "tickColor": "#222222", "tickSize": 4, "labelLimit": 400, "labelPadding": 2}},
              "x": {"field": "r", "type": "quantitative", "scale": {"domain": [-45, -5], "nice": false, "zero": false, "range": [143, 182]},
                    "axis": {"values": [-45, -30, -15], "tickCount": 20, "format": "d", "title": null, "domainColor": "#222222", "tickColor": "#222222", "tickSize": 4, "labelFontSize": 8.5, "labelColor": "#222222"}},
              "x2": {"datum": 0},
              "fill": {"field": "life", "type": "nominal", "scale": {"domain": ["Temperate", "Virulent"], "range": ["#7eaad3", "#f4786c"]}, "legend": null}
            }},
           {"transform": [{"filter": "datum.sig !== '' && datum.r < -5"}],
            "mark": {"type": "text", "align": "right", "baseline": "middle", "dx": -3, "dy": 2, "fontSize": 7.5, "color": "#222222"},
            "encoding": {"y": {"field": "path", "type": "nominal"}, "x": {"field": "r", "type": "quantitative"}, "text": {"field": "sig"}}}
          ]
         },
         {
          "width": 148.7, "height": 257,
          "data": {"name": "gbar"},
          "layer": [
           {"mark": {"type": "bar", "clip": true},
            "encoding": {
              "y": {"field": "path", "type": "nominal", "sort": null,
                    "scale": {"domain": ["Cysteine and methionine metabolism", "Pyrimidine metabolism", "Glycolysis / Gluconeogenesis", "Porphyrin metabolism", "Galactose metabolism", "Pyruvate metabolism", "Pentose phosphate pathway", "Methane metabolism", "Pentose and glucuronate interconversions", "One carbon pool by folate", "Glycine, serine and threonine metabolism", "Fructose and mannose metabolism", "Phenylalanine, tyrosine and tryptophan biosynthesis", "Citrate cycle (TCA cycle)", "Propanoate metabolism", "Butanoate metabolism", "Arginine biosynthesis", "Valine, leucine and isoleucine biosynthesis", "Lysine biosynthesis", "Valine, leucine and isoleucine degradation", "Glucosinolate biosynthesis", "Monobactam biosynthesis"], "paddingInner": 0.45, "paddingOuter": 0.25},
                    "axis": null},
              "x": {"field": "r", "type": "quantitative", "scale": {"domain": [-4.04, 4.02], "nice": false, "zero": false},
                    "axis": {"values": [-4, -3, -2, -1, 0, 1, 2, 3, 4], "tickCount": 20, "format": "d", "title": "vOTUs ratio (%)", "domainColor": "#222222", "tickColor": "#222222", "tickSize": 4, "labelFontSize": 9, "labelColor": "#222222", "titleFontSize": 10, "titlePadding": 3}},
              "x2": {"datum": 0},
              "fill": {"field": "life", "type": "nominal", "scale": {"domain": ["Temperate", "Virulent"], "range": ["#7eaad3", "#f4786c"]},
                       "legend": {"title": null, "orient": "none", "legendX": 122, "legendY": 195, "symbolType": "M-1,-0.4H1V0.4H-1Z", "symbolSize": 196, "labelFontSize": 9, "labelColor": "#222222", "rowPadding": 2}}
            }},
           {"data": {"values": [{}]}, "mark": {"type": "rule", "color": "#111111", "strokeDash": [2, 2], "strokeWidth": 1},
            "encoding": {"x": {"datum": 0, "type": "quantitative"}}},
           {"transform": [{"filter": "datum.sig !== '' && datum.life === 'Temperate' && datum.r <= 4.05"}],
            "mark": {"type": "text", "align": "left", "baseline": "middle", "dx": 3, "dy": 2, "fontSize": 7.5, "color": "#222222"},
            "encoding": {"y": {"field": "path", "type": "nominal"}, "x": {"field": "r", "type": "quantitative"}, "text": {"field": "sig"}}},
           {"transform": [{"filter": "datum.sig !== '' && datum.life === 'Virulent' && datum.r >= -4.05"}],
            "mark": {"type": "text", "align": "right", "baseline": "middle", "dx": -3, "dy": 2, "fontSize": 7.5, "color": "#222222"},
            "encoding": {"y": {"field": "path", "type": "nominal"}, "x": {"field": "r", "type": "quantitative"}, "text": {"field": "sig"}}}
          ]
         },
         {
          "width": 36, "height": 257,
          "data": {"name": "gbar"},
          "layer": [
           {"mark": {"type": "bar", "clip": true},
            "encoding": {
              "y": {"field": "path", "type": "nominal", "sort": null,
                    "scale": {"domain": ["Cysteine and methionine metabolism", "Pyrimidine metabolism", "Glycolysis / Gluconeogenesis", "Porphyrin metabolism", "Galactose metabolism", "Pyruvate metabolism", "Pentose phosphate pathway", "Methane metabolism", "Pentose and glucuronate interconversions", "One carbon pool by folate", "Glycine, serine and threonine metabolism", "Fructose and mannose metabolism", "Phenylalanine, tyrosine and tryptophan biosynthesis", "Citrate cycle (TCA cycle)", "Propanoate metabolism", "Butanoate metabolism", "Arginine biosynthesis", "Valine, leucine and isoleucine biosynthesis", "Lysine biosynthesis", "Valine, leucine and isoleucine degradation", "Glucosinolate biosynthesis", "Monobactam biosynthesis"], "paddingInner": 0.45, "paddingOuter": 0.25},
                    "axis": null},
              "x": {"field": "r", "type": "quantitative", "scale": {"domain": [11.2, 45], "nice": false, "zero": false},
                    "axis": {"values": [15, 30, 45], "tickCount": 20, "format": "d", "title": null, "domainColor": "#222222", "tickColor": "#222222", "tickSize": 4, "labelFontSize": 8.5, "labelColor": "#222222"}},
              "x2": {"datum": 0},
              "fill": {"field": "life", "type": "nominal", "scale": {"domain": ["Temperate", "Virulent"], "range": ["#7eaad3", "#f4786c"]}, "legend": null}
            }},
           {"transform": [{"filter": "datum.sig !== '' && datum.life === 'Temperate' && datum.r > 4.05"}],
            "mark": {"type": "text", "align": "left", "baseline": "middle", "dx": 3, "dy": 2, "fontSize": 7.5, "color": "#222222"},
            "encoding": {"y": {"field": "path", "type": "nominal"}, "x": {"field": "r", "type": "quantitative"}, "text": {"field": "sig"}}}
          ]
         }
        ]
       }
      ]
     }
    ]
   }
  ]
 }
]
}
